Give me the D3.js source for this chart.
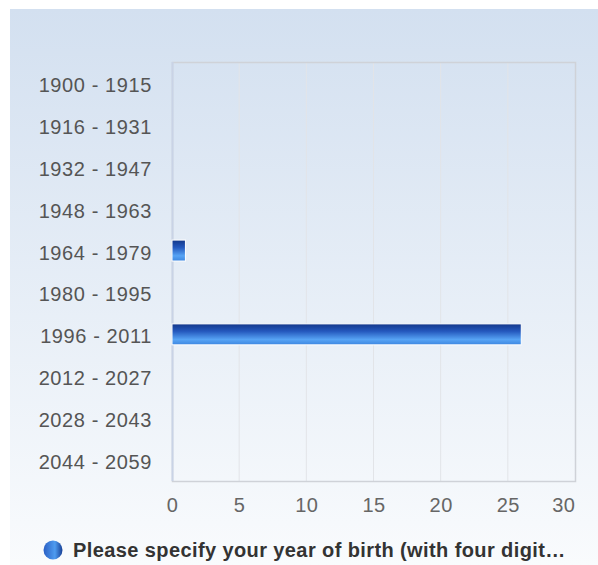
<!DOCTYPE html>
<html>
<head>
<meta charset="utf-8">
<script src="https://cdn.jsdelivr.net/npm/d3@7"></script>
<style>
  body { margin: 0; background: #fff; }
  svg { display: block; font-family: "Liberation Sans", Arial, sans-serif; }
</style>
</head>
<body>
<div class="chart"></div>
<script>
// Data.
const categories = [
  "1900 - 1915", "1916 - 1931", "1932 - 1947", "1948 - 1963", "1964 - 1979",
  "1980 - 1995", "1996 - 2011", "2012 - 2027", "2028 - 2043", "2044 - 2059",
];
const counts = [0, 0, 0, 0, 1, 0, 26, 0, 0, 0];
const xTicks = [0, 5, 10, 15, 20, 25, 30];
const seriesName = "Please specify your year of birth (with four digit…";

const W = 598, H = 565;
const margin = { top: 62, right: 23, bottom: 84, left: 172 };
const width = W - margin.left - margin.right;
const height = H - margin.top - margin.bottom;

const svg = d3.select(".chart").append("svg")
  .attr("width", W)
  .attr("height", H);

const defs = svg.append("defs");
const bg = defs.append("linearGradient")
  .attr("id", "bg").attr("x1", 0).attr("y1", 0).attr("x2", 0).attr("y2", 1);
bg.append("stop").attr("offset", "0%").attr("stop-color", "#d3e0f0");
bg.append("stop").attr("offset", "100%").attr("stop-color", "#f9fbfd");

const barGrad = defs.append("linearGradient")
  .attr("id", "bar").attr("x1", 0).attr("y1", 0).attr("x2", 0).attr("y2", 1);
barGrad.append("stop").attr("offset", "0%").attr("stop-color", "#13378a");
barGrad.append("stop").attr("offset", "35%").attr("stop-color", "#2458bd");
barGrad.append("stop").attr("offset", "75%").attr("stop-color", "#57a4f5");
barGrad.append("stop").attr("offset", "100%").attr("stop-color", "#3d86e0");

const dot = defs.append("linearGradient")
  .attr("id", "dot").attr("x1", 0).attr("y1", 0).attr("x2", 1).attr("y2", 0);
dot.append("stop").attr("offset", "0%").attr("stop-color", "#2a5fc4");
dot.append("stop").attr("offset", "60%").attr("stop-color", "#4f9cf0");
dot.append("stop").attr("offset", "100%").attr("stop-color", "#173f95");

// Background panel.
svg.append("rect")
  .attr("x", 10).attr("y", 9)
  .attr("width", W - 10).attr("height", H - 9)
  .attr("fill", "url(#bg)");

const g = svg.append("g")
  .attr("transform", `translate(${margin.left}, ${margin.top})`);

// Scales.
const xScale = d3.scaleLinear().domain([0, 30]).range([0, width]);
const yScale = d3.scaleBand().domain(categories).range([0, height]).paddingInner(0.5).paddingOuter(0.25);

// Grid.
g.append("g").attr("class", "grid")
  .selectAll("line")
  .data(xTicks.slice(1, -1))
  .enter()
  .append("line")
  .attr("x1", (d) => xScale(d)).attr("x2", (d) => xScale(d))
  .attr("y1", 0).attr("y2", height)
  .attr("stroke", "#e2e4e8")
  .attr("stroke-width", 1);

g.append("rect")
  .attr("x", 0.5).attr("y", 0.5)
  .attr("width", width).attr("height", height)
  .attr("fill", "none")
  .attr("stroke", "#cfd2d8")
  .attr("stroke-width", 1.5);

g.append("line")
  .attr("x1", 0.5).attr("x2", 0.5).attr("y1", 0).attr("y2", height)
  .attr("stroke", "#c9d3e6").attr("stroke-width", 2);

// Axes.
const xAxis = d3.axisBottom(xScale).tickValues(xTicks).tickSize(0).tickPadding(17);
const xAxisDraw = g.append("g")
  .attr("transform", `translate(0, ${height})`)
  .call(xAxis);
xAxisDraw.select(".domain").remove();
xAxisDraw.selectAll("text")
  .style("font-size", "20px")
  .style("letter-spacing", "0.5px")
  .attr("font-family", "Liberation Sans, Arial, sans-serif")
  .attr("fill", "#666");
// last label kept inside the plot edge
xAxisDraw.selectAll("text")
  .filter((d) => d === xTicks[xTicks.length - 1])
  .attr("text-anchor", "end");

const yAxis = d3.axisLeft(yScale).tickSize(0).tickPadding(20);
const yAxisDraw = g.append("g").call(yAxis);
yAxisDraw.select(".domain").remove();
yAxisDraw.selectAll("text")
  .attr("dy", "0.45em")
  .style("font-size", "20px")
  .style("letter-spacing", "0.6px")
  .attr("font-family", "Liberation Sans, Arial, sans-serif")
  .attr("fill", "#555");

// Bars.
g.append("g")
  .selectAll("rect")
  .data(categories.map((c, i) => ({ c, v: counts[i] })).filter((d) => d.v > 0))
  .enter()
  .append("rect")
  .attr("x", xScale(0))
  .attr("y", (d) => yScale(d.c))
  .attr("width", (d) => xScale(d.v) - xScale(0))
  .attr("height", yScale.bandwidth())
  .attr("fill", "url(#bar)")
  .attr("stroke", "#ffffff")
  .attr("stroke-width", 1);

// Legend.
const legend = svg.append("g").attr("transform", "translate(53, 550)");
legend.append("circle")
  .attr("r", 9.5)
  .attr("fill", "url(#dot)");
legend.append("text")
  .attr("x", 20).attr("y", 7)
  .style("font-size", "20px")
  .style("letter-spacing", "0.4px")
  .attr("font-weight", "bold")
  .attr("fill", "#333")
  .text(seriesName);
</script>
</body>
</html>
